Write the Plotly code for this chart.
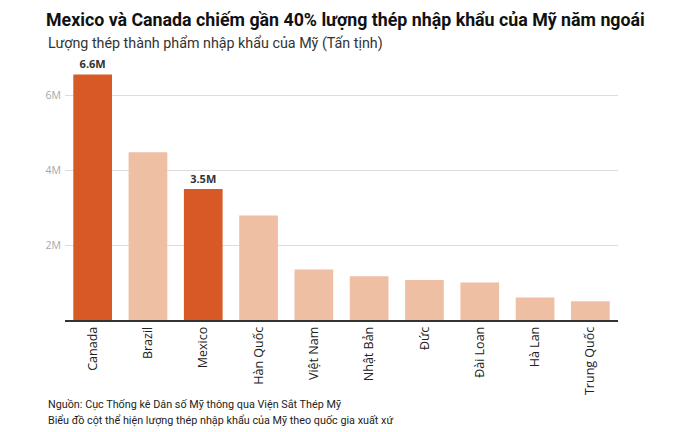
"""Bar chart: US finished steel imports by country of origin."""

import plotly.graph_objects as go

# Data (million net tonnes)
countries = [
    "Canada", "Brazil", "Mexico", "Hàn Quốc", "Việt Nam",
    "Nhật Bản", "Đức", "Đài Loan", "Hà Lan", "Trung Quốc",
]
imports_m = [6.56, 4.48, 3.5, 2.79, 1.35, 1.17, 1.07, 1.0, 0.6, 0.5]
highlighted = ["Canada", "Mexico"]
tick_vals = [2, 4, 6]
tick_text = ["2M", "4M", "6M"]

DARK = "#D75A26"
LIGHT = "#EEBFA3"

colors = [DARK if c in highlighted else LIGHT for c in countries]
labels = [f"{v:.1f}M" if c in highlighted else "" for c, v in zip(countries, imports_m)]

fig = go.Figure()
fig.add_trace(
    go.Bar(
        x=countries,
        y=imports_m,
        marker=dict(color=colors, line=dict(width=0)),
        text=labels,
        textposition="outside",
        textfont=dict(family="Open Sans", size=11, color="#333333", weight="bold"),
        cliponaxis=False,
        hoverinfo="x+y",
    )
)

# the page body has an 8px margin, so the figure is drawn 8px smaller
fig.update_layout(
    width=692,
    height=424,
    margin=dict(l=57, r=82, t=50, b=112),
    plot_bgcolor="white",
    paper_bgcolor="white",
    bargap=0.3,
    showlegend=False,
    title=dict(
        text="<b>Mexico và Canada chiếm gần 40% lượng thép nhập khẩu của Mỹ năm ngoái</b>",
        font=dict(family="Roboto", size=17.8, color="#111111"),
        xref="container",
        yref="container",
        x=38 / 692,
        xanchor="left",
        y=1 - 12 / 424,
        yanchor="middle",
    ),
    xaxis=dict(
        tickangle=-90,
        tickfont=dict(family="Open Sans", size=12.5, color="#222222"),
        showline=True,
        linecolor="#333333",
        linewidth=1.5,
        ticks="",
        showgrid=False,
    ),
    yaxis=dict(
        range=[0, 7],
        tickvals=tick_vals,
        ticktext=tick_text,
        tickfont=dict(family="Open Sans", size=10.5, color="#A8A8A8"),
        showgrid=True,
        gridcolor="#DDDDDD",
        gridwidth=1,
        zeroline=False,
        ticks="",
        ticklabelstandoff=3,
    ),
    annotations=[
        dict(
            text="Lượng thép thành phẩm nhập khẩu của Mỹ (Tấn tịnh)",
            xref="paper", yref="paper",
            x=-0.0344, y=1.057,
            xanchor="left", yanchor="middle",
            showarrow=False,
            font=dict(family="Roboto", size=14.3, color="#333333"),
        ),
        dict(
            text="Nguồn: Cục Thống kê Dân số Mỹ thông qua Viện Sắt Thép Mỹ",
            xref="paper", yref="paper",
            x=-0.0344, y=-0.324,
            xanchor="left", yanchor="middle",
            showarrow=False,
            font=dict(family="Roboto", size=10.8, color="#222222"),
        ),
        dict(
            text="Biểu đồ cột thể hiện lượng thép nhập khẩu của Mỹ theo quốc gia xuất xứ",
            xref="paper", yref="paper",
            x=-0.0344, y=-0.382,
            xanchor="left", yanchor="middle",
            showarrow=False,
            font=dict(family="Roboto", size=10.8, color="#222222"),
        ),
    ],
)

fig.write_html("out.html")
